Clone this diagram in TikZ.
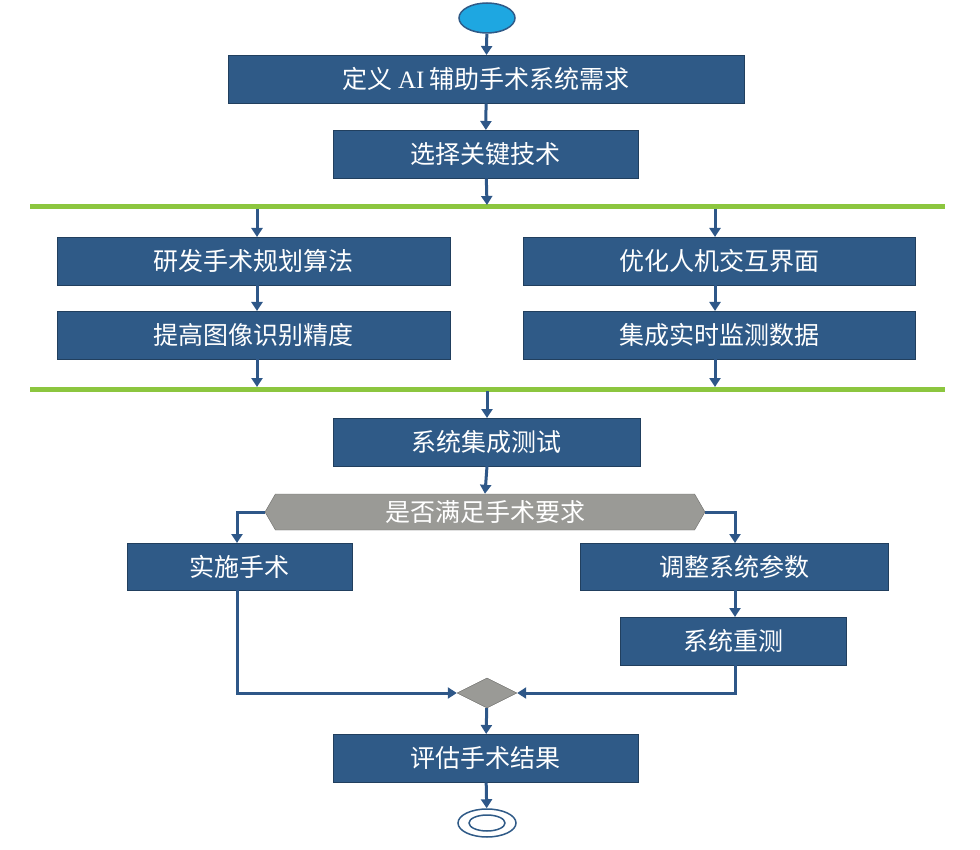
\documentclass[tikz,border=0pt]{standalone}
\usepackage{fontspec}
\setmainfont{Liberation Serif}
\newfontfamily\cjk{Noto Sans CJK SC}
\usetikzlibrary{shapes.geometric,shapes.symbols,arrows.meta}
\definecolor{bx}{HTML}{2F5A87}
\definecolor{ln}{HTML}{2E5788}
\definecolor{gr}{HTML}{8CC63F}
\definecolor{st}{HTML}{1EA7E1}
\definecolor{hx}{HTML}{9A9A96}
\begin{document}
\begin{tikzpicture}[x=1pt,y=-1pt,
  box/.style={draw=bx!70!black,fill=bx,text=white,font=\cjk\fontsize{25}{28}\selectfont,inner sep=0pt,anchor=north west},
  ar/.style={draw=ln,line width=3pt,-{Triangle[length=9pt,width=11pt]}},
  ln/.style={draw=ln,line width=3pt},
  bar/.style={draw=gr,line width=5pt}]
\useasboundingbox (0,0) rectangle (980,850);
\node[ellipse,draw=bx,line width=1.5pt,fill=st,minimum width=56pt,minimum height=30pt] (s) at (487,18) {};
\node[box,minimum width=516pt,minimum height=48pt] (b1) at (228,55) {定义 {\rmfamily AI} 辅助手术系统需求};
\node[box,minimum width=305pt,minimum height=48pt] (b2) at (333,130) {选择关键技术};
\coordinate (g1l) at (30,207); \coordinate (g1r) at (945,207);
\node[box,minimum width=393pt,minimum height=48pt] (b3) at (57,237) {研发手术规划算法};
\node[box,minimum width=392pt,minimum height=48pt] (b4) at (523,237) {优化人机交互界面};
\node[box,minimum width=393pt,minimum height=48pt] (b5) at (57,311) {提高图像识别精度};
\node[box,minimum width=392pt,minimum height=48pt] (b6) at (523,311) {集成实时监测数据};
\coordinate (g2l) at (30,389); \coordinate (g2r) at (945,389);
\node[box,minimum width=307pt,minimum height=48pt] (b7) at (333,418) {系统集成测试};
\node[draw=hx!70!black,fill=hx,text=white,font=\cjk\fontsize{25}{28}\selectfont,signal,signal to=west and east,signal pointer angle=120,minimum width=440pt,minimum height=36pt,inner sep=0pt] (d) at (485,512) {是否满足手术要求};
\node[box,minimum width=225pt,minimum height=47pt] (b8) at (127,543) {实施手术};
\node[box,minimum width=308pt,minimum height=47pt] (b9) at (580,543) {调整系统参数};
\node[box,minimum width=226pt,minimum height=48pt] (b10) at (620,617) {系统重测};
\node[diamond,draw=hx!70!black,fill=hx,minimum width=60pt,minimum height=30pt,inner sep=0pt,aspect=2] (m) at (487,693) {};
\node[box,minimum width=305pt,minimum height=48pt] (b11) at (333,734) {评估手术结果};
\node[ellipse,draw=bx,line width=1.5pt,fill=white,minimum width=58pt,minimum height=28pt] (e) at (487,823) {};
\node[ellipse,draw=bx,line width=1.5pt,minimum width=36pt,minimum height=16pt] (ei) at (487,823) {};
\draw[bar] (g1l) -- (g1r);
\draw[bar] (g2l) -- (g2r);
\draw[ar] (s) -- (b1);
\draw[ar] (b1) -- (b2);
\draw[ar] (b2) -- (487,205);
\draw[ar] (257,209) -- (257,237);
\draw[ar] (715,209) -- (715,237);
\draw[ar] (257,285) -- (257,311);
\draw[ar] (715,285) -- (715,311);
\draw[ar] (257,359) -- (257,387);
\draw[ar] (715,359) -- (715,387);
\draw[ar] (487,391) -- (487,418);
\draw[ar] (487,466) -- (d.north);
\draw[ar] (d.west) -| (237,543);
\draw[ar] (d.east) -| (735,543);
\draw[ar] (735,590) -- (735,617);
\draw[ar] (237,590) |- (m.west);
\draw[ar] (735,665) |- (m.east);
\draw[ar] (m) -- (b11);
\draw[ar] (b11) -- (e);
\end{tikzpicture}
\end{document}
